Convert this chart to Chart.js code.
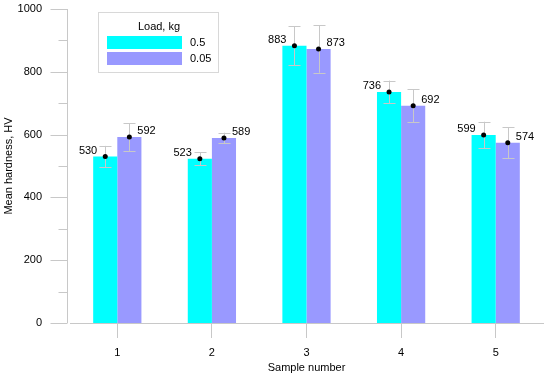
<!DOCTYPE html>
<html><head><meta charset="utf-8">
<script src="https://cdn.jsdelivr.net/npm/chart.js@4"></script>
<style>html,body{margin:0;padding:0;background:#fff}#wrap{width:550px;height:377px}</style>
</head><body><div id="wrap"><canvas id="c" width="550" height="377"></canvas></div>
<script>
const categories = ['1','2','3','4','5'];
const seriesNames = ['0.5','0.05'];
const load05 = [530, 523, 883, 736, 599];
const load005 = [592, 589, 873, 692, 574];
const err05 = [34, 21, 62, 36, 42];
const err005 = [44, 17, 76, 52, 49];
const yTicks = [0, 200, 400, 600, 800, 1000];
const yMinorTicks = [100, 300, 500, 700, 900];
const errors = [err05, err005];

const FONT = '"Liberation Sans", Arial, sans-serif';
const AXIS_COLOR = '#c8c8c8';

const overlay = {
  id: 'overlay',
  afterDatasetsDraw(chart) {
    const ctx = chart.ctx, y = chart.scales.y, area = chart.chartArea;
    ctx.save();
    // y axis line and ticks
    ctx.strokeStyle = AXIS_COLOR; ctx.lineWidth = 1;
    const ax = area.left - 3 + 0.5;
    ctx.beginPath(); ctx.moveTo(ax, y.getPixelForValue(1000)); ctx.lineTo(ax, y.getPixelForValue(0)); ctx.stroke();
    yTicks.forEach(v => { const py = Math.round(y.getPixelForValue(v)) + 0.5; ctx.beginPath(); ctx.moveTo(ax - 17, py); ctx.lineTo(ax, py); ctx.stroke(); });
    yMinorTicks.forEach(v => { const py = Math.round(y.getPixelForValue(v)) + 0.5; ctx.beginPath(); ctx.moveTo(ax - 9, py); ctx.lineTo(ax, py); ctx.stroke(); });
    // error bars, dots, labels
    chart.data.datasets.forEach((ds, di) => {
      const meta = chart.getDatasetMeta(di);
      meta.data.forEach((bar, i) => {
        const v = ds.data[i], e = errors[di][i];
        const x = bar.x;
        const yt = y.getPixelForValue(v + e), yb = y.getPixelForValue(v - e), yv = y.getPixelForValue(v);
        ctx.strokeStyle = AXIS_COLOR; ctx.lineWidth = 1;
        const xs = Math.round(x) + 0.5;
        ctx.beginPath();
        ctx.moveTo(xs, yt); ctx.lineTo(xs, yb);
        ctx.moveTo(xs - 6, Math.round(yt) + 0.5); ctx.lineTo(xs + 6, Math.round(yt) + 0.5);
        ctx.moveTo(xs - 6, Math.round(yb) + 0.5); ctx.lineTo(xs + 6, Math.round(yb) + 0.5);
        ctx.stroke();
        ctx.fillStyle = '#000';
        ctx.beginPath(); ctx.arc(x, yv, 2.5, 0, Math.PI * 2); ctx.fill();
        ctx.font = '11px ' + FONT;
        ctx.textBaseline = 'middle';
        if (di === 0) { ctx.textAlign = 'right'; ctx.fillText(String(v), x - 8, yv - 6); }
        else { ctx.textAlign = 'left'; ctx.fillText(String(v), x + 8, yv - 6); }
      });
    });
    // legend
    const lx = 98, ly = 12, lw = 120, lh = 60;
    ctx.fillStyle = '#fff'; ctx.fillRect(lx, ly, lw, lh);
    ctx.strokeStyle = '#d8d8d8'; ctx.strokeRect(lx + 0.5, ly + 0.5, lw, lh);
    ctx.fillStyle = '#000'; ctx.font = '11px ' + FONT; ctx.textAlign = 'center'; ctx.textBaseline = 'middle';
    ctx.fillText('Load, kg', 159, 27);
    chart.data.datasets.forEach((ds, di) => {
      const sy = 36 + di * 16;
      ctx.fillStyle = ds.backgroundColor; ctx.fillRect(107, sy, 75, 13);
      ctx.fillStyle = '#000'; ctx.textAlign = 'left';
      ctx.fillText(ds.label, 190, sy + 7);
    });
    ctx.restore();
  }
};

new Chart(document.getElementById('c'), {
  type: 'bar',
  data: {
    labels: categories,
    datasets: [
      { label: seriesNames[0], data: load05, backgroundColor: '#00ffff', borderWidth: 0, categoryPercentage: 0.51, barPercentage: 1.0 },
      { label: seriesNames[1], data: load005, backgroundColor: '#9999ff', borderWidth: 0, categoryPercentage: 0.51, barPercentage: 1.0 }
    ]
  },
  options: {
    responsive: false, animation: false,
    layout: { padding: { top: 9, right: 7, left: 0, bottom: 0 } },
    plugins: { legend: { display: false }, tooltip: { enabled: false } },
    scales: {
      x: {
        offset: true,
        grid: { display: true, drawOnChartArea: false, offset: false, tickLength: 15, color: AXIS_COLOR },
        border: { display: true, color: AXIS_COLOR },
        ticks: { font: { family: FONT, size: 11 }, color: '#000', padding: 8 },
        title: { display: true, text: 'Sample number', font: { family: FONT, size: 11 }, color: '#000', padding: { top: 0, bottom: 2 } },
        afterFit(s) { s.height = 54; }
      },
      y: {
        min: 0, max: 1000,
        afterBuildTicks(s) { s.ticks = yTicks.map(v => ({ value: v })); },
        grid: { display: false },
        border: { display: false },
        ticks: { font: { family: FONT, size: 11 }, color: '#000', padding: 20, callback: v => String(v) },
        title: { display: true, text: 'Mean hardness, HV', font: { family: FONT, size: 11 }, color: '#000', padding: { top: 2, bottom: 0 } },
        afterFit(s) { s.width = 70; s.paddingTop = 0; s.paddingBottom = 0; }
      }
    }
  },
  plugins: [overlay]
});
</script>
</body></html>
